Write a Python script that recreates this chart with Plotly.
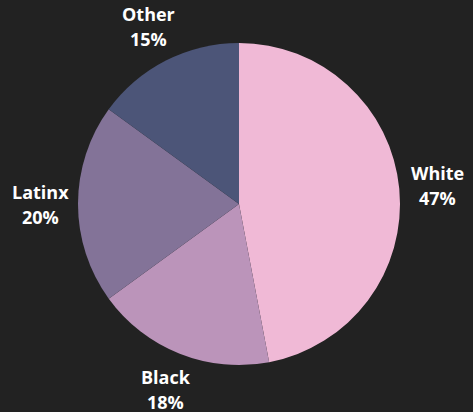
import math
import plotly.graph_objects as go

labels = ["White", "Black", "Latinx", "Other"]
values = [47, 18, 20, 15]
colors = ["#f0b9d6", "#bb94ba", "#837398", "#4c5578"]

W, H = 473, 412
cx, cy, R = 239, 204, 161  # pie centre and radius in pixels
label_r = 199

fig = go.Figure(go.Pie(
    labels=labels,
    values=values,
    sort=False,
    direction="clockwise",
    rotation=0,
    marker=dict(colors=colors, line=dict(width=0)),
    textinfo="none",
    showlegend=False,
    hoverinfo="label+percent",
    domain=dict(x=[(cx - R) / W, (cx + R) / W], y=[1 - (cy + R) / H, 1 - (cy - R) / H]),
))

total = sum(values)
cum = 0
for lab, v in zip(labels, values):
    mid = (cum + v / 2) / total * 2 * math.pi
    cum += v
    px = cx + label_r * math.sin(mid)
    py = cy - label_r * math.cos(mid)
    pct = f"{round(v / total * 100)}%"
    for txt, shift in ((lab, 12.5), (pct, -12.5)):
        fig.add_annotation(
            x=px / W, y=1 - py / H, xref="paper", yref="paper",
            text=f"<b>{txt}</b>", showarrow=False,
            xanchor="center", yanchor="middle", yshift=shift,
            font=dict(family="Open Sans", size=18, color="white"),
        )

fig.update_layout(
    width=W, height=H,
    margin=dict(l=0, r=0, t=0, b=0),
    paper_bgcolor="#222222",
    plot_bgcolor="#222222",
)
fig.write_html(
    "out.html",
    config={"displayModeBar": False},
    post_script="document.body.style.margin='0';document.body.style.background='#222222';",
)
